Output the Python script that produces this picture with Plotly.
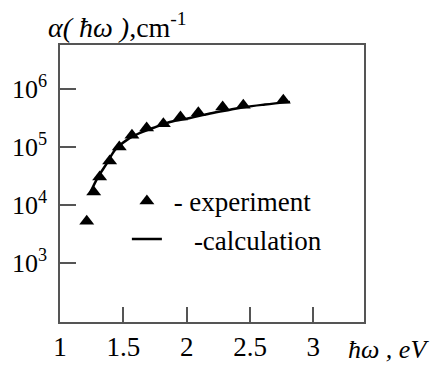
import plotly.graph_objects as go

# experiment (triangles)
exp_energy = [1.211, 1.266, 1.313, 1.392, 1.468, 1.568, 1.684, 1.816, 1.951, 2.092, 2.284, 2.447, 2.763]
exp_alpha = [5.3e3, 1.69e4, 3.05e4, 5.77e4, 1.0e5, 1.60e5, 2.13e5, 2.53e5, 3.30e5, 3.91e5, 4.90e5, 5.24e5, 6.40e5]

# calculation (line)
calc_energy = [1.237, 1.300, 1.371, 1.434, 1.529, 1.632, 1.734, 1.868, 2.026, 2.184, 2.342, 2.461, 2.618, 2.816]
calc_alpha = [1.62e4, 3.05e4, 5.3e4, 8.9e4, 1.33e5, 1.75e5, 2.13e5, 2.71e5, 3.17e5, 3.8e5, 4.4e5, 4.9e5, 5.4e5, 6.0e5]

x_ticks = [1, 1.5, 2, 2.5, 3]
x_ticktext = ["1", "1.5", "2", "2.5", "3"]
y_ticks = [1e3, 1e4, 1e5, 1e6]
y_ticktext = ["10<sup>3</sup>", "10<sup>4</sup>", "10<sup>5</sup>", "10<sup>6</sup>"]

FONT = "Liberation Serif"
AXC = "#555555"
NB = "\u00a0"

fig = go.Figure()
fig.add_trace(go.Scatter(
    x=exp_energy, y=exp_alpha, mode="markers", name=NB + "- experiment",
    marker=dict(symbol="triangle-up", size=13, color="black"),
))
fig.add_trace(go.Scatter(
    x=calc_energy, y=calc_alpha, mode="lines", name=NB * 4 + "-calculation",
    line=dict(color="black", width=2.5, shape="spline"),
))

fig.update_layout(
    template="none",
    width=434, height=365,
    margin=dict(l=60, r=70, t=45, b=43, autoexpand=False),
    paper_bgcolor="white", plot_bgcolor="white",
    font=dict(family=FONT, color="black"),
    showlegend=True,
    legend=dict(x=0.22, y=0.524, xanchor="left", yanchor="top",
                bgcolor="rgba(0,0,0,0)", font=dict(size=27, family=FONT),
                tracegroupgap=0, itemsizing="trace"),
    xaxis=dict(range=[1, 3.4], tickvals=x_ticks, ticktext=x_ticktext,
               ticks="inside", ticklen=15, tickwidth=1.5, tickcolor=AXC,
               showline=True, linecolor=AXC, linewidth=1.5, mirror=True,
               showgrid=False, zeroline=False, automargin=False,
               tickfont=dict(size=27, family=FONT), ticklabelstandoff=0),
    yaxis=dict(type="log", range=[1.99, 6.757], tickvals=y_ticks, ticktext=y_ticktext,
               ticks="inside", ticklen=16, tickwidth=1.5, tickcolor=AXC,
               showline=True, linecolor=AXC, linewidth=1.5, mirror=True,
               showgrid=False, zeroline=False, automargin=False,
               tickfont=dict(size=26, family=FONT), ticklabelstandoff=6),
    annotations=[
        dict(text="<i>α( ħω )</i>,cm<sup>-1</sup>", xref="paper", yref="paper",
             x=-0.045, y=1.0, xanchor="left", yanchor="bottom", showarrow=False,
             font=dict(size=28, family=FONT)),
        dict(text="<i>ħω , eV</i>", xref="paper", yref="paper",
             x=0.94, y=-0.04, xanchor="left", yanchor="top", showarrow=False,
             font=dict(size=26, family=FONT)),
    ],
)

fig.write_html("out.html", config={"displayModeBar": False},
               post_script="document.body.style.margin='0';")
